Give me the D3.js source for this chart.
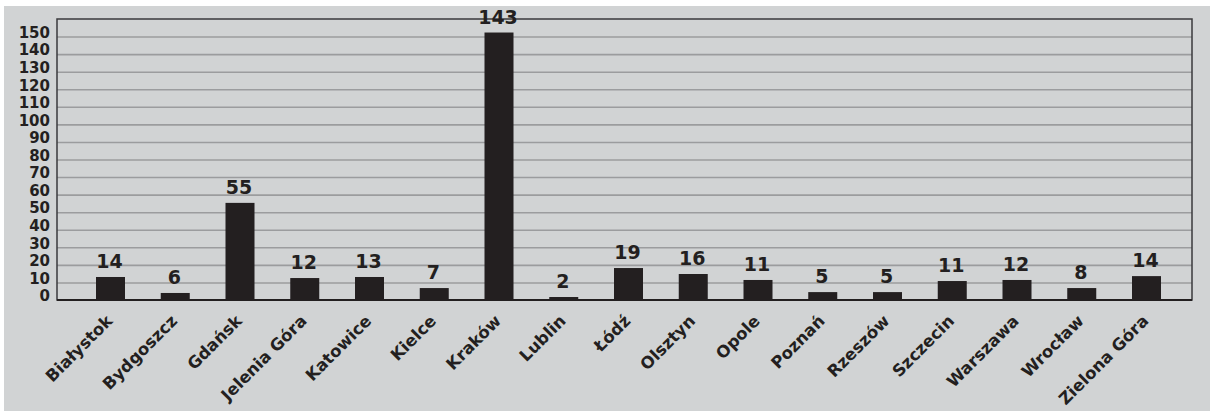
<!DOCTYPE html>
<html>
<head>
<meta charset="utf-8">
<script src="https://cdn.jsdelivr.net/npm/d3@7"></script>
<style>
  html, body { margin: 0; padding: 0; background: #ffffff; }
  svg { display: block; }
  text { font-family: "DejaVu Sans", sans-serif; font-weight: bold; fill: #231f20; }
</style>
</head>
<body>
<svg id="chart" width="1211" height="411"></svg>
<script>
// ---- data ----
const categories = ["Białystok", "Bydgoszcz", "Gdańsk", "Jelenia Góra", "Katowice", "Kielce", "Kraków",
  "Lublin", "Łódź", "Olsztyn", "Opole", "Poznań", "Rzeszów", "Szczecin", "Warszawa", "Wrocław", "Zielona Góra"];
// printed value labels
const labels = [14, 6, 55, 12, 13, 7, 143, 2, 19, 16, 11, 5, 5, 11, 12, 8, 14];
// bar heights as drawn in the picture
const barValues = [13.1, 4.0, 55.3, 12.5, 13.1, 6.8, 152.3, 1.7, 18.2, 14.8, 11.4, 4.5, 4.5, 10.8, 11.4, 6.8, 13.6];
const yTicks = [0, 10, 20, 30, 40, 50, 60, 70, 80, 90, 100, 110, 120, 130, 140, 150];

// ---- layout ----
const W = 1211, H = 411;
const plot = { left: 57, right: 1192, top: 19, bottom: 300 };
const svg = d3.select("#chart");

svg.append("rect").attr("x", 4).attr("y", 6).attr("width", W - 5).attr("height", H - 6)
  .attr("fill", "#d1d3d4");

const y = d3.scaleLinear().domain([0, 160]).range([plot.bottom, plot.top]);
const x = d3.scalePoint().domain(categories).range([110.5, 1146.5]);
const barW = 29;

// gridlines
const grid = svg.append("g").attr("transform", `translate(${plot.left},0)`)
  .call(d3.axisLeft(y).tickValues(yTicks.filter(v => v > 0)).tickSize(-(plot.right - plot.left)).tickFormat(""));
grid.select(".domain").remove();
grid.selectAll(".tick line").attr("stroke", "#9b9c9e").attr("stroke-width", 1.6);

// y tick labels
const yAxis = svg.append("g").attr("transform", `translate(${plot.left},0)`)
  .call(d3.axisLeft(y).tickValues(yTicks).tickSize(0).tickPadding(7));
yAxis.select(".domain").remove();
yAxis.selectAll(".tick text")
  .attr("font-size", "15px").attr("font-family", "DejaVu Sans").attr("font-weight", "bold")
  .attr("fill", "#231f20").attr("dy", "0.05em");

// frame
svg.append("rect").attr("x", plot.left).attr("y", plot.top)
  .attr("width", plot.right - plot.left).attr("height", plot.bottom - plot.top)
  .attr("fill", "none").attr("stroke", "#3a3a3c").attr("stroke-width", 1.5);

// bars
svg.append("g").selectAll("rect").data(categories).join("rect")
  .attr("x", (d) => x(d) - barW / 2)
  .attr("y", (d, i) => y(barValues[i]))
  .attr("width", barW)
  .attr("height", (d, i) => y(0) - y(barValues[i]))
  .attr("fill", "#231f20");

// baseline
svg.append("line").attr("x1", plot.left).attr("x2", plot.right)
  .attr("y1", y(0)).attr("y2", y(0)).attr("stroke", "#231f20").attr("stroke-width", 1.8);

// value labels
svg.append("g").selectAll("text").data(categories).join("text")
  .attr("x", (d) => x(d) - 1)
  .attr("y", (d, i) => y(barValues[i]) - 9)
  .attr("text-anchor", "middle")
  .attr("font-size", "19px")
  .text((d, i) => labels[i]);

// category labels
svg.append("g").selectAll("text").data(categories).join("text")
  .attr("transform", (d) => `translate(${x(d) + 3},${322}) rotate(-45)`)
  .attr("text-anchor", "end")
  .attr("font-size", "16.5px")
  .text((d) => d);
</script>
</body>
</html>
